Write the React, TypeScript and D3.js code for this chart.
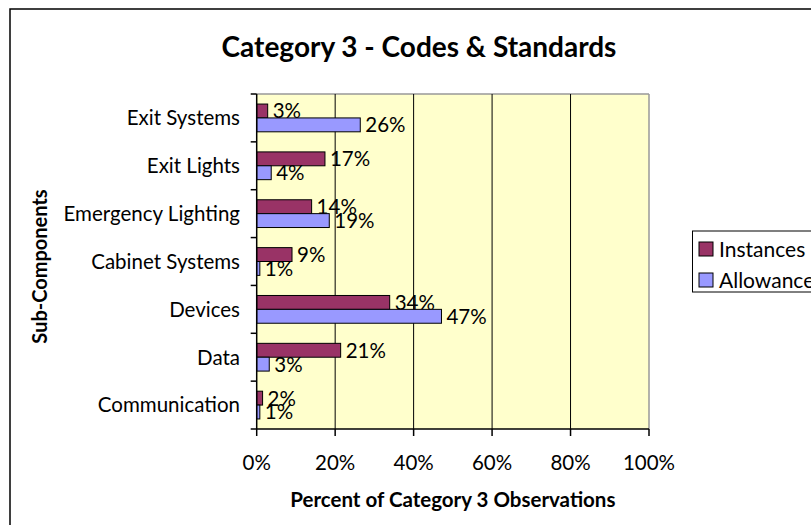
import React from "react";
import * as d3 from "d3";

// chart data (percent of category 3 observations)
const categories = [
  "Exit Systems",
  "Exit Lights",
  "Emergency Lighting",
  "Cabinet Systems",
  "Devices",
  "Data",
  "Communication",
];
const instances = [2.8, 17.4, 14.0, 9.0, 33.9, 21.4, 1.5];
const allowance = [26.4, 3.7, 18.5, 0.8, 47.1, 3.2, 0.8];
const seriesNames = ["Instances", "Allowance"];
const seriesColors = ["#993366", "#9999FF"];
const xTicks = [0, 20, 40, 60, 80, 100];

const FONT = "Lato, 'DejaVu Sans', sans-serif";

const App = () => {
  const width = 811;
  const height = 525;
  const plot = { left: 256.7, right: 649, top: 94, bottom: 429 };

  const x = d3.scaleLinear().domain([0, 100]).range([plot.left, plot.right]);
  const y = d3.scaleBand().domain(categories).range([plot.top, plot.bottom]);
  const bw = y.bandwidth();
  const ySeries = d3
    .scaleBand()
    .domain(seriesNames)
    .range([bw * 0.21, bw * 0.79]);

  const rows = categories.map((c, i) => ({
    category: c,
    values: [instances[i], allowance[i]],
  }));

  const boundaries = categories.map((c) => y(c)).concat([plot.bottom]);

  return (
    <svg
      width={width}
      height={height}
      style={{ display: "block", position: "absolute", left: 0, top: 0 }}
      fontFamily={FONT}
    >
      <rect x={0} y={0} width={width} height={height} fill="#fff" />
      {/* chart frame */}
      <rect
        x={10}
        y={9}
        width={900}
        height={600}
        fill="#fff"
        stroke="#000"
        strokeWidth={1.5}
      />
      <text
        x={419}
        y={57}
        textAnchor="middle"
        fontSize={28}
        fontWeight="bold"
      >
        Category 3 - Codes &amp; Standards
      </text>

      {/* plot area */}
      <rect
        x={plot.left}
        y={plot.top}
        width={plot.right - plot.left}
        height={plot.bottom - plot.top}
        fill="#FFFFCC"
      />
      <line
        x1={plot.left}
        x2={plot.right}
        y1={plot.top}
        y2={plot.top}
        stroke="#999"
        strokeWidth={1.5}
      />
      <line
        x1={plot.right}
        x2={plot.right}
        y1={plot.top}
        y2={plot.bottom}
        stroke="#999"
        strokeWidth={1.5}
      />
      {xTicks.slice(1, -1).map((t) => (
        <line
          key={t}
          x1={x(t)}
          x2={x(t)}
          y1={plot.top}
          y2={plot.bottom}
          stroke="#000"
          strokeWidth={1}
        />
      ))}

      {/* bars */}
      {rows.map((r) => (
        <g key={r.category} transform={`translate(0,${y(r.category)})`}>
          {r.values.map((v, j) => (
            <g key={j}>
              <rect
                x={x(0)}
                y={ySeries(seriesNames[j])}
                width={x(v) - x(0)}
                height={ySeries.bandwidth()}
                fill={seriesColors[j]}
                stroke="#000"
                strokeWidth={1}
              />
              <text
                x={x(v) + 5}
                y={ySeries(seriesNames[j]) + ySeries.bandwidth() / 2}
                dy="0.36em"
                fontSize={20.5}
              >
                {Math.round(v)}%
              </text>
            </g>
          ))}
        </g>
      ))}

      {/* y axis */}
      <line
        x1={plot.left}
        x2={plot.left}
        y1={plot.top}
        y2={plot.bottom}
        stroke="#000"
        strokeWidth={1.5}
      />
      {boundaries.map((b, i) => (
        <line
          key={i}
          x1={plot.left - 6}
          x2={plot.left}
          y1={b}
          y2={b}
          stroke="#000"
          strokeWidth={1.5}
        />
      ))}
      {categories.map((c) => (
        <text
          key={c}
          x={240}
          y={y(c) + bw / 2}
          dy="0.36em"
          textAnchor="end"
          fontSize={20.5}
        >
          {c}
        </text>
      ))}

      {/* x axis */}
      <line
        x1={plot.left}
        x2={plot.right}
        y1={plot.bottom}
        y2={plot.bottom}
        stroke="#000"
        strokeWidth={1.5}
      />
      {xTicks.map((t) => (
        <g key={t}>
          <line
            x1={x(t)}
            x2={x(t)}
            y1={plot.bottom}
            y2={plot.bottom + 7}
            stroke="#000"
            strokeWidth={1.5}
          />
          <text
            x={x(t)}
            y={463}
            dy="0.36em"
            textAnchor="middle"
            fontSize={20.5}
          >
            {t}%
          </text>
        </g>
      ))}

      <text
        x={(plot.left + plot.right) / 2}
        y={500}
        dy="0.36em"
        textAnchor="middle"
        fontSize={20.5}
        fontWeight="bold"
      >
        Percent of Category 3 Observations
      </text>
      <text
        transform={`translate(40,${(plot.top + plot.bottom) / 2 + 5}) rotate(-90)`}
        dy="0.36em"
        textAnchor="middle"
        fontSize={20}
        fontWeight="bold"
      >
        Sub-Components
      </text>

      {/* legend */}
      <rect
        x={692.5}
        y={231}
        width={200}
        height={61}
        fill="#fff"
        stroke="#000"
        strokeWidth={1}
      />
      {seriesNames.map((s, i) => (
        <g key={s} transform={`translate(699,${249 + i * 31})`}>
          <rect
            x={0}
            y={-7}
            width={14}
            height={14}
            fill={seriesColors[i]}
            stroke="#000"
            strokeWidth={1}
          />
          <text x={20} y={0} dy="0.36em" fontSize={21}>
            {s}
          </text>
        </g>
      ))}
    </svg>
  );
};

export default App;
